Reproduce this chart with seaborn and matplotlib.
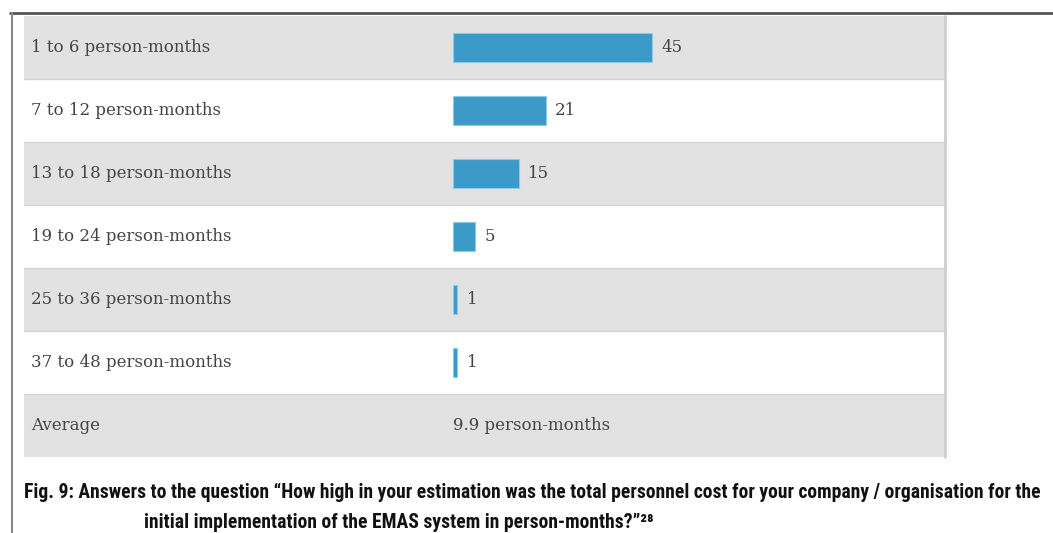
import matplotlib
matplotlib.use("Agg")
import matplotlib.pyplot as plt
import matplotlib.transforms as mtransforms
from matplotlib import font_manager
from matplotlib.lines import Line2D
import seaborn as sns
import pandas as pd

# Survey answers: estimated personnel effort for the initial EMAS implementation
categories = [
    "1 to 6 person-months",
    "7 to 12 person-months",
    "13 to 18 person-months",
    "19 to 24 person-months",
    "25 to 36 person-months",
    "37 to 48 person-months",
]
counts = [45, 21, 15, 5, 1, 1]
average_label = "Average"
average_value = 9.9
average_unit = "person-months"

caption_line1 = ("Fig. 9: Answers to the question \u201cHow high in your estimation was the total "
                 "personnel cost for your company / organisation for the")
caption_line2 = "initial implementation of the EMAS system in person-months?\u201d\u00b2\u2078"

sns.set_theme(style="white")
plt.rcParams["font.family"] = ["DejaVu Serif"]

W, H = 1053, 533
fig = plt.figure(figsize=(W / 100, H / 100), dpi=100)
fig.patch.set_facecolor("white")

# table area in pixels
left_px, right_px, top_px, bottom_px = 24, 945, 16, 457
zero_px = 453
px_per_unit = 199 / 45.0

ax = fig.add_axes([left_px / W, 1 - bottom_px / H,
                   (right_px - left_px) / W, (bottom_px - top_px) / H])

df = pd.DataFrame({"category": categories, "count": counts})
sns.barplot(data=df, x="count", y="category", orient="h", color="#3b9ac8",
            saturation=1, width=0.46, edgecolor="#8ccbe8", linewidth=0.8,
            ax=ax, zorder=3)

n_rows = len(categories) + 1
ax.set_ylim(n_rows - 0.5, -0.5)
ax.set_xlim(-(zero_px - left_px) / px_per_unit, (right_px - zero_px) / px_per_unit)

# alternating row shading and separators
for i in range(n_rows):
    if i % 2 == 0:
        ax.axhspan(i - 0.5, i + 0.5, color="#e2e2e2", zorder=0, lw=0)
for i in range(n_rows - 1):
    ax.axhline(i + 0.5, color="#d2d2d2", lw=1.0, zorder=1)

ax.plot([1, 1], [0, 1], transform=ax.transAxes, color="#cfcfcf", lw=2,
        clip_on=False, zorder=4)

ax.set_xlabel("")
ax.set_ylabel("")
ax.set_xticks([])
ax.set_yticks([])
for s in ax.spines.values():
    s.set_visible(False)

text_color = "#444444"
fs = 12
label_x = (31 - left_px) / (right_px - left_px)
trans = mtransforms.blended_transform_factory(ax.transAxes, ax.transData)
for i, cat in enumerate(categories):
    ax.text(label_x, i, cat, transform=trans, va="center", ha="left",
            fontsize=fs, color=text_color, zorder=5)
    ax.annotate(str(counts[i]), xy=(counts[i], i), xytext=(6.5, 0),
                textcoords="offset points", va="center", ha="left",
                fontsize=fs, color=text_color, zorder=5)

avg_row = len(categories)
ax.text(label_x, avg_row, average_label, transform=trans, va="center",
        ha="left", fontsize=fs, color=text_color, zorder=5)
ax.text(0, avg_row, f"{average_value} {average_unit}", va="center", ha="left",
        fontsize=fs, color=text_color, zorder=5)

# outer frame lines
fig.add_artist(Line2D([10 / W, 1], [1 - 13 / H, 1 - 13 / H], color="#555555",
                      lw=2, transform=fig.transFigure))
fig.add_artist(Line2D([12 / W, 12 / W], [0, 1 - 13 / H], color="#8a8a8a",
                      lw=1.5, transform=fig.transFigure))


def pick_condensed_family():
    for fam in ["Liberation Sans Narrow", "DejaVu Sans Condensed",
                "Roboto Condensed", "Open Sans Condensed"]:
        try:
            font_manager.findfont(font_manager.FontProperties(family=fam),
                                  fallback_to_default=False)
            return [fam, "DejaVu Sans"]
        except Exception:
            continue
    return ["Roboto", "DejaVu Sans"]


cap_font = pick_condensed_family()
cap1 = fig.text(24 / W, 1 - 492 / H, caption_line1, fontsize=13.5,
                fontweight="bold", family=cap_font, color="#111111",
                va="center", ha="left")
cap2 = fig.text(144 / W, 1 - 522 / H, caption_line2, fontsize=13.5,
                fontweight="bold", family=cap_font, color="#111111",
                va="center", ha="left")

# size the caption so its first line runs from the frame to the right margin
renderer = fig.canvas.get_renderer()
target_w = 1041 - 24
w = cap1.get_window_extent(renderer=renderer).width
new_fs = 13.5 * target_w / w
cap1.set_fontsize(new_fs)
cap2.set_fontsize(new_fs)

fig.savefig("out.png", dpi=100, facecolor="white")
